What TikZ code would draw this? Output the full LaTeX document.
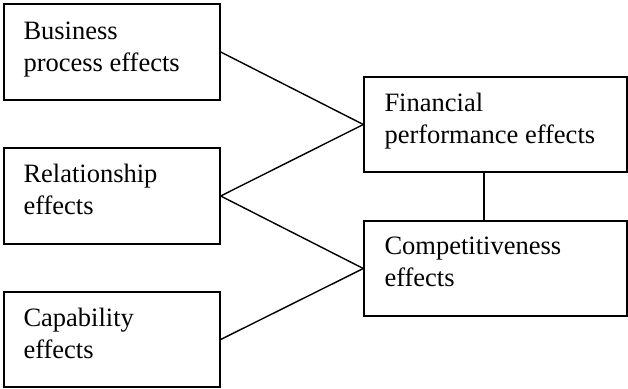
\documentclass[tikz,border=0pt]{standalone}
\usepackage{fontspec}
\setmainfont{Liberation Serif}
\begin{document}
\begin{tikzpicture}[x=1pt,y=-1pt,
  box/.style={draw,line width=1.4pt,inner sep=0pt,minimum width=216pt,minimum height=96pt},
  rbox/.style={draw,line width=1.4pt,inner sep=0pt,minimum width=263pt,minimum height=95pt},
  lbl/.style={anchor=north west,inner sep=0pt,align=left,font=\fontsize{26.5}{32}\selectfont},
  conn/.style={line width=1.4pt}]
\useasboundingbox (0,0) rectangle (628,388);
\node[box] (bp) at (112,52) {};
\node[box] (rel) at (112,196) {};
\node[box,minimum height=95pt] (cap) at (112,339.5) {};
\node[rbox] (fin) at (495.5,124.5) {};
\node[rbox] (comp) at (495.5,268.5) {};
\node[lbl] (tbp) at ([xshift=20pt,yshift=-18pt]bp.north west) {Business\\process effects};
\node[lbl] (trel) at ([xshift=20pt,yshift=-17pt]rel.north west) {Relationship\\effects};
\node[lbl] (tcap) at ([xshift=20pt,yshift=-17pt]cap.north west) {Capability\\effects};
\node[lbl] (tfin) at ([xshift=21pt,yshift=-17pt]fin.north west) {Financial\\performance effects};
\node[lbl] (tcomp) at ([xshift=21pt,yshift=-16pt]comp.north west) {Competitiveness\\effects};
\draw[conn] (bp.east) -- (fin.west);
\draw[conn] (rel.east) -- (fin.west);
\draw[conn] (rel.east) -- (comp.west);
\draw[conn] (cap.east) -- (comp.west);
\draw[conn] ([xshift=-11.5pt]fin.south) -- ([xshift=-11.5pt]comp.north);
\end{tikzpicture}
\end{document}
